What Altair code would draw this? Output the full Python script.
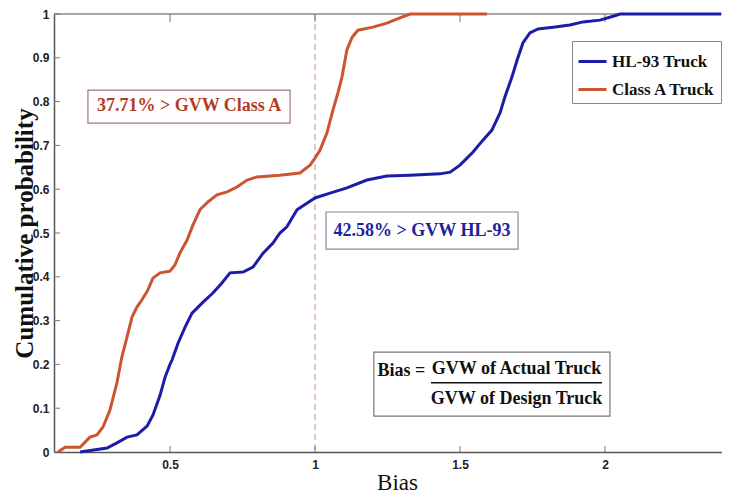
import altair as alt
import pandas as pd

# ---------------- data ----------------
series_names = ["HL-93 Truck", "Class A Truck"]
series_colors = ["#1c1ca8", "#cc5530"]

classa_x = [0.114, 0.138, 0.19, 0.224, 0.248, 0.269, 0.293, 0.317, 0.334, 0.352,
            0.369, 0.386, 0.403, 0.424, 0.441, 0.466, 0.5, 0.517, 0.534, 0.559,
            0.579, 0.603, 0.631, 0.662, 0.697, 0.731, 0.766, 0.8, 0.879, 0.948,
            0.983, 1.0, 1.017, 1.041, 1.062, 1.079, 1.093, 1.11, 1.128, 1.148,
            1.2, 1.248, 1.293, 1.328, 1.593]
classa_y = [0.0, 0.011, 0.011, 0.034, 0.039, 0.057, 0.096, 0.158, 0.217, 0.263,
            0.308, 0.331, 0.347, 0.37, 0.397, 0.409, 0.413, 0.427, 0.454, 0.484,
            0.518, 0.553, 0.571, 0.587, 0.594, 0.605, 0.621, 0.628, 0.632, 0.637,
            0.655, 0.671, 0.689, 0.728, 0.781, 0.82, 0.856, 0.918, 0.947, 0.963,
            0.97, 0.979, 0.991, 1.0, 1.0]

hl93_x = [0.19, 0.283, 0.317, 0.352, 0.386, 0.421, 0.441, 0.466, 0.483, 0.5,
          0.507, 0.528, 0.552, 0.576, 0.614, 0.648, 0.679, 0.707, 0.752, 0.786,
          0.821, 0.855, 0.879, 0.903, 0.938, 0.972, 1.0, 1.052, 1.11, 1.179,
          1.248, 1.328, 1.431, 1.466, 1.5, 1.545, 1.579, 1.61, 1.638, 1.655,
          1.679, 1.697, 1.717, 1.741, 1.769, 1.821, 1.879, 1.924, 1.983, 2.028,
          2.052, 2.40]
hl93_y = [0.0, 0.009, 0.021, 0.034, 0.039, 0.059, 0.084, 0.13, 0.171, 0.2,
          0.21, 0.249, 0.285, 0.317, 0.342, 0.363, 0.386, 0.409, 0.411, 0.422,
          0.454, 0.477, 0.5, 0.514, 0.553, 0.568, 0.58, 0.591, 0.603, 0.621,
          0.63, 0.632, 0.635, 0.639, 0.655, 0.685, 0.712, 0.735, 0.774, 0.811,
          0.856, 0.895, 0.934, 0.957, 0.966, 0.97, 0.975, 0.982, 0.986, 0.995,
          1.0, 1.0]

y_ticks = [0, 0.1, 0.2, 0.3, 0.4, 0.5, 0.6, 0.7, 0.8, 0.9, 1]
x_ticks = [0.5, 1, 1.5, 2]

# ---------------- layout ----------------
W, H = 668, 438
XMIN = 0.1
XMAX = 0.1 + W / 290.0
SERIF = "Liberation Serif"
TICKFONT = "Liberation Sans Narrow, Arial Narrow, Liberation Sans"

df = pd.concat([
    pd.DataFrame({"bias": hl93_x, "p": hl93_y, "series": series_names[0]}),
    pd.DataFrame({"bias": classa_x, "p": classa_y, "series": series_names[1]}),
])

xs = alt.Scale(domain=[XMIN, XMAX], nice=False, zero=False)
ys = alt.Scale(domain=[0, 1], nice=False, zero=False)

x_axis = alt.Axis(values=x_ticks, format="~g", ticks=False, grid=False,
                  domainColor="#555555", domainWidth=1.5,
                  labelFont=TICKFONT, labelFontWeight="bold", labelFontSize=12,
                  labelColor="#222222", labelPadding=7,
                  title="Bias", titleFont=SERIF, titleFontSize=23,
                  titleFontWeight="normal", titleColor="#111111",
                  titleX=343, titleY=30, titleAlign="center", titleBaseline="middle")
y_axis = alt.Axis(values=y_ticks, format="~g", ticks=False, grid=False,
                  domainColor="#555555", domainWidth=1.5,
                  labelFont=TICKFONT, labelFontWeight="bold", labelFontSize=12,
                  labelColor="#222222", labelPadding=5,
                  title="Cumulative probability", titleFont=SERIF, titleFontSize=25,
                  titleFontWeight="bold", titleColor="#111111",
                  titleX=-30, titleY=H / 2, titleAngle=270,
                  titleAlign="center", titleBaseline="middle")

lines = alt.Chart(df).mark_line(strokeWidth=3).encode(
    x=alt.X("bias:Q", scale=xs, axis=x_axis),
    y=alt.Y("p:Q", scale=ys, axis=y_axis),
    color=alt.Color("series:N",
                    scale=alt.Scale(domain=series_names, range=series_colors),
                    sort=series_names,
                    title=None,
                    legend=alt.Legend(orient="none", legendX=518, legendY=27,
                                      strokeColor="#888888", fillColor="white",
                                      padding=5, symbolType="stroke",
                                      symbolStrokeWidth=3, symbolSize=784,
                                      labelFont=SERIF, labelFontSize=17,
                                      labelFontWeight="bold", labelColor="#111111",
                                      labelOffset=4, rowPadding=4)),
)

# dashed reference at bias = 1
ref = alt.Chart(pd.DataFrame({"bias": [1.0]})).mark_rule(
    color="#c89478", strokeDash=[6, 4], strokeWidth=1
).encode(x=alt.X("bias:Q", scale=xs))

# top border
top = alt.Chart(pd.DataFrame({"a": [0]})).mark_rule(color="#888888", strokeWidth=1.5).encode(
    x=alt.value(0), x2=alt.value(W), y=alt.value(0))

# inward tick marks
xt = pd.DataFrame({"bias": x_ticks})
yt = pd.DataFrame({"p": y_ticks})
xticks_bottom = alt.Chart(xt).mark_rule(color="#777777").encode(
    x=alt.X("bias:Q", scale=xs), y=alt.value(H - 6), y2=alt.value(H))
xticks_top = alt.Chart(xt).mark_rule(color="#777777").encode(
    x=alt.X("bias:Q", scale=xs), y=alt.value(0), y2=alt.value(8))
yticks_left = alt.Chart(yt).mark_rule(color="#777777").encode(
    y=alt.Y("p:Q", scale=ys), x=alt.value(0), x2=alt.value(6))

# annotation boxes
boxes = pd.DataFrame({
    "x1": [0.217, 1.038, 1.203],
    "x2": [0.914, 1.700, 2.017],
    "y1": [0.751, 0.463, 0.082],
    "y2": [0.826, 0.548, 0.228],
    "c":  ["#a07a70", "#8a8aa0", "#777777"],
})
box_layer = alt.Chart(boxes).mark_rect(fill="white", strokeWidth=1.2).encode(
    x=alt.X("x1:Q", scale=xs), x2="x2:Q",
    y=alt.Y("y1:Q", scale=ys), y2="y2:Q",
    stroke=alt.Stroke("c:N", scale=None),
)

texts = pd.DataFrame({
    "x": [0.566, 1.369, 1.298, 1.695, 1.695],
    "y": [0.789, 0.505, 0.186, 0.19, 0.122],
    "t": ["37.71% > GVW Class A", "42.58% > GVW HL-93", "Bias =",
          "GVW of Actual Truck", "GVW of Design Truck"],
    "c": ["#b03c28", "#22229a", "#111111", "#111111", "#111111"],
})
text_layer = alt.Chart(texts).mark_text(
    font=SERIF, fontSize=18, fontWeight="bold", align="center", baseline="middle"
).encode(
    x=alt.X("x:Q", scale=xs), y=alt.Y("y:Q", scale=ys), text="t:N",
    color=alt.Color("c:N", scale=None),
)

frac = alt.Chart(pd.DataFrame({"x1": [1.400], "x2": [1.990], "y": [0.158]})).mark_rule(
    color="#111111", strokeWidth=1.5
).encode(x=alt.X("x1:Q", scale=xs), x2="x2:Q", y=alt.Y("y:Q", scale=ys))

chart = alt.layer(
    ref, top, xticks_bottom, xticks_top, yticks_left, lines,
    box_layer, text_layer, frac
).properties(
    width=W, height=H,
    autosize=alt.AutoSizeParams(type="none"),
    padding={"left": 46, "top": 6, "right": 0, "bottom": 42},
    background="white",
).configure_view(stroke="transparent")

chart.save("out.html", embed_options={"renderer": "svg", "actions": False})
